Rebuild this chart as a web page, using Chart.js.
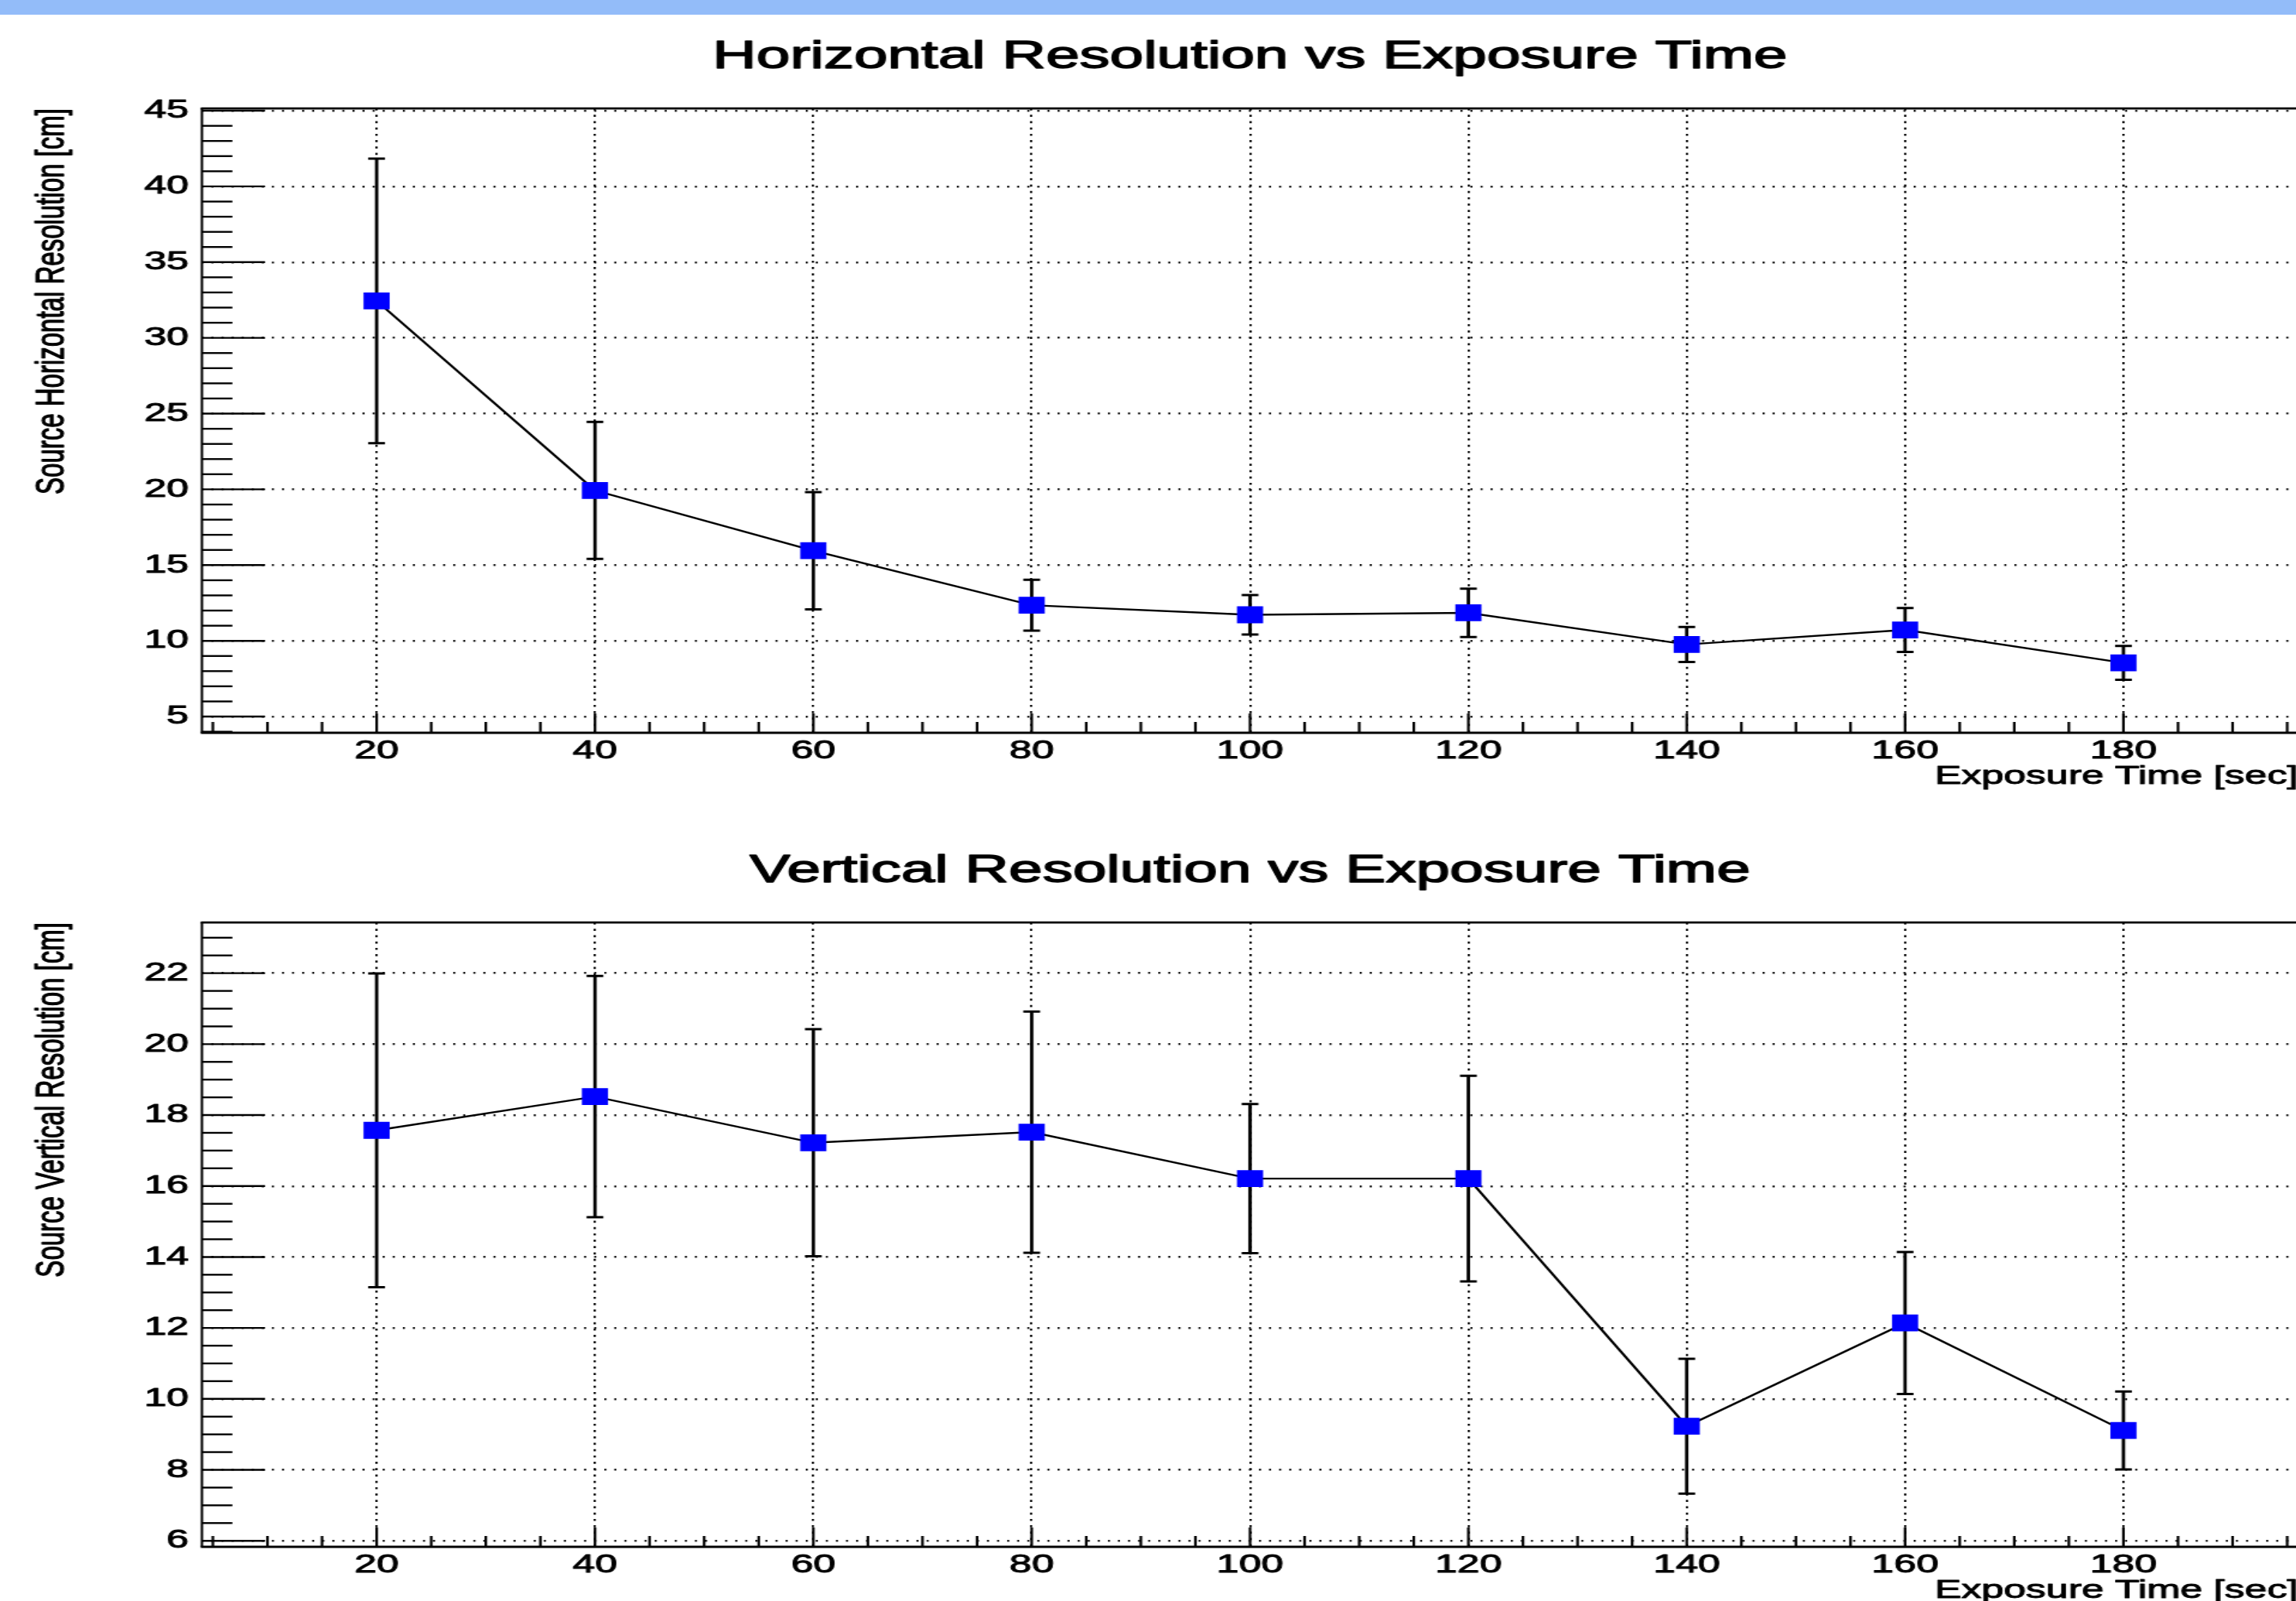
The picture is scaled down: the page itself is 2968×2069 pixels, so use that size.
<!DOCTYPE html>
<html>
<head>
<meta charset="utf-8">
<script src="https://cdn.jsdelivr.net/npm/chart.js@4.4.1/dist/chart.umd.min.js"></script>
<style>
html, body { margin: 0; padding: 0; background: #ffffff; overflow: hidden; width: 2968px; height: 2069px; }
#bar { position: absolute; left: 0; top: 0; width: 2968px; height: 19px; background: #93bcf9; z-index: 2; }
.panel { position: absolute; left: 0; width: 1932px; height: 1052px; transform: scaleX(1.55); transform-origin: 0 0; }
#p1 { top: 0; }
#p2 { top: 1052px; }
canvas { display: block; }
</style>
</head>
<body>
<div id="bar"></div>
<div class="panel" id="p1"><canvas id="c1" width="1932" height="1052"></canvas></div>
<div class="panel" id="p2"><canvas id="c2" width="1932" height="1052"></canvas></div>
<script>
// ---------------- data ----------------
const exposureTimes = [20, 40, 60, 80, 100, 120, 140, 160, 180];

const horizontalResolution = [32.44, 19.93, 15.95, 12.35, 11.72, 11.85, 9.76, 10.72, 8.55];
const horizontalError      = [9.39, 4.52, 3.87, 1.68, 1.30, 1.60, 1.16, 1.45, 1.12];

const verticalResolution = [17.57, 18.52, 17.22, 17.52, 16.21, 16.21, 9.23, 12.14, 9.11];
const verticalError      = [4.42, 3.40, 3.20, 3.40, 2.10, 2.90, 1.90, 2.00, 1.10];

const titles = ["Horizontal Resolution vs Exposure Time", "Vertical Resolution vs Exposure Time"];
const yTitles = ["Source Horizontal Resolution [cm]", "Source Vertical Resolution [cm]"];
const xTitle = "Exposure Time [sec]";

// axis ranges / tick steps
const xRange = [4, 196];
const xMajorStep = 20, xMinorStep = 5;
const hRange = [3.93, 45.15];
const hMajorStep = 5, hMinorStep = 1;
const vRange = [5.83, 23.43];
const vMajorStep = 2, vMinorStep = 0.5;

// ---------------- style ----------------
const FONT = "'Liberation Sans', Arial, Helvetica, sans-serif";

// make canvas text slightly heavier (the original is a thick, upscaled ROOT rendering)
function thickenText(canvas) {
  const ctx = canvas.getContext('2d');
  const orig = ctx.fillText;
  ctx.fillText = function (...args) {
    orig.apply(this, args);
    const m = /([\d.]+)px/.exec(this.font);
    const size = m ? parseFloat(m[1]) : 30;
    this.save();
    this.lineWidth = size * 0.03;
    this.lineJoin = 'round';
    this.strokeStyle = this.fillStyle;
    this.strokeText(...args);
    this.restore();
  };
}

const rootAxesPlugin = {
  id: 'rootAxes',
  beforeDatasetsDraw(chart) {
    const { ctx, chartArea: a, scales: { x, y } } = chart;
    const o = chart.options.plugins.rootAxes;
    ctx.save();
    ctx.strokeStyle = '#000';
    ctx.lineCap = 'butt';
    // y ticks (inside, from left axis)
    ctx.lineWidth = 2.4;
    const ky0 = Math.ceil(y.min / o.yMinor - 1e-6), ky1 = Math.floor(y.max / o.yMinor + 1e-6);
    for (let k = ky0; k <= ky1; k++) {
      const v = k * o.yMinor;
      const major = Math.abs(v / o.yMajor - Math.round(v / o.yMajor)) < 1e-6;
      const py = y.getPixelForValue(v);
      ctx.beginPath();
      ctx.moveTo(a.left, py);
      ctx.lineTo(a.left + (major ? 52.7 : 25.4), py);
      ctx.stroke();
    }
    // x ticks (inside, from bottom axis)
    ctx.lineWidth = 2.2;
    const kx0 = Math.ceil(x.min / o.xMinor - 1e-6), kx1 = Math.floor(x.max / o.xMinor + 1e-6);
    for (let k = kx0; k <= kx1; k++) {
      const v = k * o.xMinor;
      const major = Math.abs(v / o.xMajor - Math.round(v / o.xMajor)) < 1e-6;
      const px = x.getPixelForValue(v);
      ctx.beginPath();
      ctx.moveTo(px, a.bottom);
      ctx.lineTo(px, a.bottom - (major ? 25 : 14));
      ctx.stroke();
    }
    // frame
    ctx.lineWidth = 2.8;
    ctx.beginPath();
    ctx.moveTo(a.left - 1, a.top); ctx.lineTo(a.right, a.top);
    ctx.moveTo(a.left - 1, a.bottom); ctx.lineTo(a.right, a.bottom);
    ctx.stroke();
    ctx.lineWidth = 2;
    ctx.beginPath();
    ctx.moveTo(a.left, a.top); ctx.lineTo(a.left, a.bottom);
    ctx.moveTo(a.right, a.top); ctx.lineTo(a.right, a.bottom);
    ctx.stroke();
    // error bars
    const ds = chart.data.datasets[0];
    const errs = ds.errors;
    ds.data.forEach((pt, i) => {
      const px = x.getPixelForValue(pt.x);
      const yt = y.getPixelForValue(pt.y + errs[i]);
      const yb = y.getPixelForValue(pt.y - errs[i]);
      ctx.lineWidth = 2.8;
      ctx.beginPath();
      ctx.moveTo(px, yt); ctx.lineTo(px, yb);
      ctx.stroke();
      ctx.lineWidth = 3;
      ctx.beginPath();
      ctx.moveTo(px - 7, yt); ctx.lineTo(px + 7, yt);
      ctx.moveTo(px - 7, yb); ctx.lineTo(px + 7, yb);
      ctx.stroke();
    });
    ctx.restore();
  }
};

function makeChart(canvasId, title, yTitle, values, errors, yRange, yMajor, yMinor) {
  const canvas = document.getElementById(canvasId);
  thickenText(canvas);
  return new Chart(canvas, {
    type: 'line',
    data: {
      datasets: [{
        data: exposureTimes.map((t, i) => ({ x: t, y: values[i] })),
        errors: errors,
        borderColor: '#000000',
        borderWidth: 2.4,
        tension: 0,
        fill: false,
        pointStyle: 'rect',
        pointRadius: 15.4,
        pointHoverRadius: 15.4,
        pointBackgroundColor: '#0000ff',
        pointBorderColor: '#0000ff',
        pointBorderWidth: 0
      }]
    },
    options: {
      responsive: false,
      animation: false,
      devicePixelRatio: 1,
      events: [],
      layout: { padding: { left: 0, right: 8.3, top: 0, bottom: 0 } },
      plugins: {
        legend: { display: false },
        tooltip: { enabled: false },
        title: {
          display: true, text: title, fullSize: false, color: '#000',
          font: { family: FONT, size: 50.5, weight: 'normal', lineHeight: 1.2 },
          padding: { top: 43.5, bottom: 36 }
        },
        rootAxes: { xMajor: xMajorStep, xMinor: xMinorStep, yMajor: yMajor, yMinor: yMinor }
      },
      scales: {
        x: {
          type: 'linear', min: xRange[0], max: xRange[1],
          afterFit: s => { s.height = 105; },
          ticks: { stepSize: xMajorStep, includeBounds: false, color: '#000', maxRotation: 0, autoSkip: false,
                   font: { family: FONT, size: 33.5 }, padding: 4 },
          grid: { color: '#000', lineWidth: 1.8, drawTicks: false },
          border: { display: false, dash: [2.7, 5.5] },
          title: { display: true, text: xTitle, align: 'end', color: '#000',
                   font: { family: FONT, size: 33.4, lineHeight: 1.2 }, padding: { top: 0, bottom: 28 } }
        },
        y: {
          type: 'linear', min: yRange[0], max: yRange[1],
          afterFit: s => { s.width = 168.4; },
          ticks: { stepSize: yMajor, includeBounds: false, color: '#000', autoSkip: false,
                   font: { family: FONT, size: 33.5 }, padding: 11 },
          grid: { color: '#000', lineWidth: 2.4, drawTicks: false },
          border: { display: false, dash: [1.6, 6.8] },
          title: { display: true, text: yTitle, align: 'end', color: '#000',
                   font: { family: FONT, size: 33, lineHeight: 1.2 }, padding: { top: 24.5, bottom: 0 } }
        }
      }
    },
    plugins: [rootAxesPlugin]
  });
}

makeChart('c1', titles[0], yTitles[0], horizontalResolution, horizontalError, hRange, hMajorStep, hMinorStep);
makeChart('c2', titles[1], yTitles[1], verticalResolution, verticalError, vRange, vMajorStep, vMinorStep);
</script>
</body>
</html>
